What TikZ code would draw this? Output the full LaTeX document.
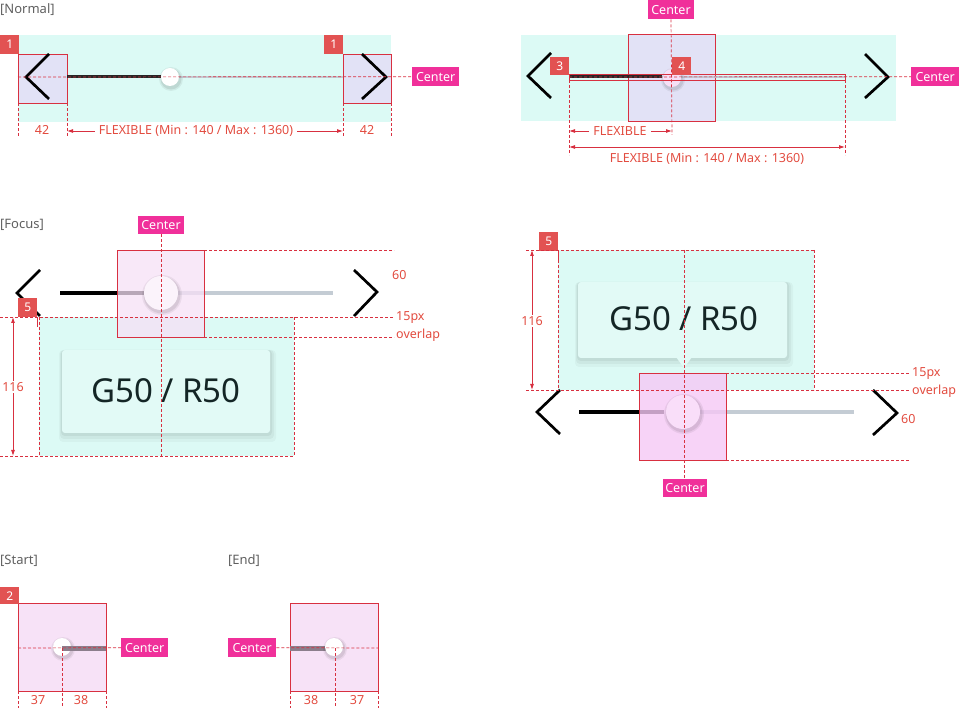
\documentclass[tikz,border=0pt]{standalone}
\usepackage{fontspec}
\setmainfont{Noto Sans}
\usetikzlibrary{arrows.meta}
\definecolor{mint}{RGB}{220,250,245}
\definecolor{lav}{RGB}{226,226,246}
\definecolor{redl}{RGB}{216,48,64}
\definecolor{badgec}{RGB}{226,82,82}
\definecolor{mag}{RGB}{240,48,154}
\definecolor{dimt}{RGB}{226,76,64}
\definecolor{pinkA}{RGB}{246,224,246}
\definecolor{pinkB}{RGB}{245,200,245}
\definecolor{pinkS}{RGB}{247,226,247}
\definecolor{trackg}{RGB}{196,204,212}
\definecolor{titleg}{RGB}{95,95,95}
\definecolor{barg}{RGB}{140,126,140}
\definecolor{cardc}{RGB}{226,250,246}
\definecolor{gtext}{RGB}{20,38,38}
\tikzset{
 dsh/.style={draw=redl, dash pattern=on 3pt off 2pt, line width=0.7pt},
 box/.style={draw=redl, line width=0.8pt},
 badge/.style={fill=badgec, text=white, font=\fontsize{12}{12}\selectfont\bfseries, minimum width=19pt, minimum height=19pt, inner sep=0pt, anchor=north west},
 ctr/.style={fill=mag, text=white, font=\fontsize{12.5}{12.5}\selectfont\bfseries, inner sep=0pt, minimum height=19pt, minimum width=47pt, anchor=north west},
 chev/.style={draw=black, line width=2.7pt, line join=miter},
 ttl/.style={text=titleg, font=\fontsize{13}{13}\selectfont, anchor=west, inner sep=0pt},
 dimtxt/.style={text=dimt, font=\fontsize{12.5}{12.5}\selectfont, inner sep=2pt},
 dimarr/.style={draw=redl, line width=0.8pt, -{Latex[length=6pt,width=4pt]}},
 dimarrb/.style={draw=redl, line width=0.8pt, {Latex[length=6pt,width=4pt]}-{Latex[length=6pt,width=4pt]}},
 big/.style={text=gtext, font=\fontsize{33}{33}\selectfont},
}
\newcommand{\thumbat}[3]{%
 \fill[black,opacity=0.06] (#1+1,#2+2) circle (#3+3);
 \fill[black,opacity=0.08] (#1+1,#2+2) circle (#3+1.5);
}
\begin{document}
\begin{tikzpicture}[x=1pt,y=-1pt]
\useasboundingbox (0,0) rectangle (959,708);
% ================= NORMAL (left) =================
\node[ttl] (tn) at (0,10) {[Normal]};
\fill[mint] (18,35) rectangle (391,122);
\draw[box, fill=lav] (18,54) rectangle (67,103);
\draw[box, fill=lav] (343,54) rectangle (391,103);
\draw[chev] (49,54) -- (26,77) -- (49,99);
\draw[chev] (362,54) -- (386,77) -- (362,99);
\draw[line width=3pt, black!85] (67,77) -- (161,77);
\draw[line width=2.2pt, trackg] (161,77) -- (343,77);
\thumbat{170}{77}{9}
\fill[white] (170,77) circle (9);
\node[badge] (b1a) at (0,35) {1};
\node[badge] (b1b) at (324,35) {1};
\node[ctr] (c1) at (412,67) {Center};
\draw[dsh] (18,77) -- (c1.west);
\foreach \x in {18,67,343,391} \draw[dsh] (\x,103) -- (\x,137);
\node[dimtxt] (d42a) at (42,130) {42};
\node[dimtxt] (d42b) at (367,130) {42};
\node[dimtxt, inner sep=4pt] (fl1) at (196,131) {FLEXIBLE (Min : 140 / Max : 1360)};
\coordinate (fl1l) at (67,131);
\coordinate (fl1r) at (343,131);
\draw[dimarr] (fl1.west) -- (fl1l);
\draw[dimarr] (fl1.east) -- (fl1r);
% ================= NORMAL (right) =================
\fill[mint] (521,35) rectangle (896,121);
\draw[box, fill=lav] (628,34) rectangle (715,121);
\draw[chev] (551,53) -- (528,76) -- (551,98);
\draw[chev] (865,54) -- (888,77) -- (865,98);
\draw[line width=1.6pt, lav!70!gray] (662,77) -- (845,77);
\draw[line width=3pt, black!85] (569,77) -- (662,77);
\thumbat{672}{78}{9}
\fill[pinkA] (672,78) circle (9);
\draw[redl, line width=0.8pt] (569,74) rectangle (845,80);
\node[badge, minimum height=18pt] (b3) at (550,57) {3};
\node[badge, minimum height=18pt] (b4) at (672,57) {4};
\node[ctr, minimum width=48pt] (c2) at (911,67) {Center};
\draw[dsh] (569,77) -- (c2.west);
\node[ctr, minimum width=46pt, anchor=north] (c3) at (671,0) {Center};
\coordinate (c3b) at (672,135);
\draw[dsh] (c3.south) -- (c3b);
\draw[dsh] (569,80) -- (569,155);
\draw[dsh] (845,80) -- (845,155);
\node[dimtxt, inner sep=4pt] (fl2) at (620,131) {FLEXIBLE};
\coordinate (fl2l) at (569,131);
\coordinate (fl2r) at (672,131);
\draw[dimarr] (fl2.west) -- (fl2l);
\draw[dimarr] (fl2.east) -- (fl2r);
\coordinate (fl3l) at (569,147);
\coordinate (fl3r) at (845,147);
\draw[dimarrb] (fl3l) -- (fl3r);
\node[dimtxt] (fl3) at (707,159) {FLEXIBLE (Min : 140 / Max : 1360)};
% ================= FOCUS (left) =================
\node[ttl] (tf) at (0,225) {[Focus]};
\draw[chev] (40,270) -- (17,293) -- (40,316);
\draw[chev] (354,270) -- (377,292) -- (354,316);
\draw[line width=3.5pt, black] (60,293) -- (145,293);
\draw[line width=3.5pt, trackg] (178,293) -- (333,293);
\fill[mint] (39,317) rectangle (294,456);
% card
\foreach \o/\a in {6/0.03,4/0.04,2/0.05} \fill[black,opacity=\a, rounded corners=4pt] (62-\o/2,350) rectangle (270+\o,433+\o*1.5);
\fill[cardc, rounded corners=3pt] (62,350) rectangle (270,433);
\node[big] (g1) at (166,391) {G50 / R50};
% pink box + thumb
\fill[pinkA, opacity=0.75] (117,250) rectangle (204,337);
\thumbat{161}{293}{17}
\fill[white!60!pinkA] (161,293) circle (17);
\draw[box] (117,250) rectangle (204,337);
\node[badge] (b5a) at (18,298) {5};
\draw[redl, line width=0.8pt] (37,317) -- (37,327);
\draw[dsh] (204,250) -- (394,250);
\draw[dsh] (0,317) -- (394,317);
\draw[dsh] (204,337) -- (394,337);
\draw[dsh] (0,456) -- (294,456);
\draw[dsh] (294,317) -- (294,456);
\draw[dsh] (39,317) -- (39,456);
\node[ctr, minimum width=46pt, minimum height=18pt, anchor=north] (c4) at (161,216) {Center};
\coordinate (c4b) at (161,456);
\draw[dsh] (c4.south) -- (c4b);
\coordinate (h1t) at (13,317);
\coordinate (h1b) at (13,456);
\draw[dimarrb] (h1t) -- (h1b);
\node[dimtxt, fill=white, inner sep=1pt] (d116a) at (13,387) {116};
\node[dimtxt, anchor=west, inner sep=0pt] (d60a) at (392,275) {60};
\node[dimtxt, anchor=west, inner sep=0pt] (ov1a) at (396,318) {15px};
\node[dimtxt, anchor=west, inner sep=0pt] (ov1b) at (396,335) {overlap};
% ================= FOCUS (right) =================
\fill[mint] (558,250) rectangle (814,390);
\foreach \o/\a in {6/0.03,4/0.04,2/0.05} \fill[black,opacity=\a, rounded corners=4pt] (578-\o/2,282) rectangle (787+\o,358+\o*1.5);
\fill[cardc, rounded corners=3pt] (578,282) rectangle (787,358);
\fill[cardc] (676,357) -- (684,368) -- (692,357) -- cycle;
\node[big] (g2) at (684,319) {G50 / R50};
\node[badge] (b5b) at (539,232) {5};
\draw[redl, line width=0.8pt] (558,250) -- (558,262);
\draw[chev] (560,390) -- (537,412) -- (560,434);
\draw[chev] (873,390) -- (897,413) -- (873,435);
\draw[line width=3.5pt, black] (579,412) -- (664,412);
\draw[line width=3.5pt, trackg] (700,412) -- (854,412);
\fill[pinkB, opacity=0.8] (639,373) rectangle (726,460);
\thumbat{683}{412}{17}
\fill[white!40!pinkB] (683,412) circle (17);
\draw[box] (639,373) rectangle (726,460);
\draw[dsh] (526,250) -- (814,250);
\draw[dsh] (558,250) -- (558,390);
\draw[dsh] (814,250) -- (814,390);
\draw[dsh] (526,390) -- (910,390);
\draw[dsh] (726,373) -- (910,373);
\draw[dsh] (726,460) -- (910,460);
\node[ctr, minimum width=44pt, minimum height=18pt, anchor=north] (c5) at (685,479) {Center};
\coordinate (c5t) at (684,250);
\draw[dsh] (c5t) -- (c5.north -| c5t);
\coordinate (h2t) at (532,250);
\coordinate (h2b) at (532,390);
\draw[dimarrb] (h2t) -- (h2b);
\node[dimtxt, fill=white, inner sep=1pt] (d116b) at (532,321) {116};
\node[dimtxt, anchor=west, inner sep=0pt] (d60b) at (901,419) {60};
\node[dimtxt, anchor=west, inner sep=0pt] (ov2a) at (912,374) {15px};
\node[dimtxt, anchor=west, inner sep=0pt] (ov2b) at (912,391) {overlap};
% ================= START =================
\node[ttl] (ts) at (0,561) {[Start]};
\draw[box, fill=pinkS] (18,603) rectangle (106,691);
\thumbat{62}{647}{9}
\fill[white] (62,647) circle (9);
\draw[line width=5pt, barg] (62,648) -- (106,648);
\node[badge, minimum height=17pt] (b2) at (0,587) {2};
\node[ctr] (c6) at (121,638) {Center};
\draw[dsh] (18,648) -- (c6.west);
\draw[dsh] (62,648) -- (62,708);
\draw[dsh] (18,691) -- (18,708);
\draw[dsh] (106,691) -- (106,708);
\node[dimtxt] (d37a) at (38,700) {37};
\node[dimtxt] (d38a) at (81,700) {38};
% ================= END =================
\node[ttl] (te) at (228,561) {[End]};
\draw[box, fill=pinkS] (290,603) rectangle (378,691);
\draw[line width=5pt, barg] (290,648) -- (335,648);
\thumbat{334}{647}{9}
\fill[white] (334,647) circle (9);
\node[ctr, minimum width=48pt] (c7) at (228,638) {Center};
\draw[dsh] (c7.east) -- (378,648);
\draw[dsh] (335,648) -- (335,708);
\draw[dsh] (290,691) -- (290,708);
\draw[dsh] (378,691) -- (378,708);
\node[dimtxt] (d38b) at (311,700) {38};
\node[dimtxt] (d37b) at (357,700) {37};
\end{tikzpicture}
\end{document}
